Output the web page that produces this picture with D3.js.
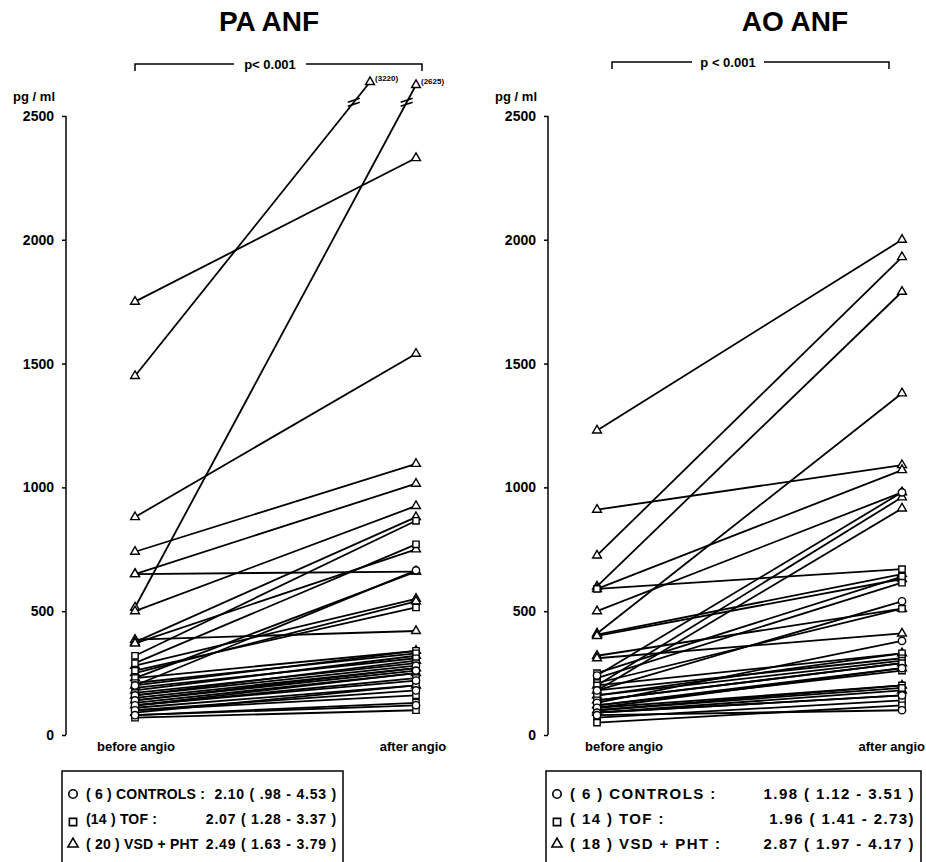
<!DOCTYPE html>
<html>
<head>
<meta charset="utf-8">
<script src="https://cdn.jsdelivr.net/npm/d3@7"></script>
<style>
  body { margin: 0; background: #fff; }
  text { font-family: "Liberation Sans", Arial, sans-serif; font-weight: bold; fill: #000; }
</style>
</head>
<body>
<svg id="chart" width="926" height="862"></svg>
<script>
// ---- data (pg/ml) ----
const phases = ["before angio", "after angio"];
const yTicks = [0, 500, 1000, 1500, 2000, 2500];

// PA ANF
const paCtrlBefore = [200, 160, 140, 120, 100, 80];
const paCtrlAfter  = [665, 280, 260, 220, 180, 120];
const paTofBefore  = [320, 290, 260, 230, 210, 190, 170, 150, 130, 120, 110, 100, 80, 70];
const paTofAfter   = [865, 770, 515, 340, 330, 310, 290, 270, 250, 230, 200, 160, 130, 100];
const paVsdBefore  = [1750, 1450, 880, 740, 650, 650, 515, 500, 385, 375, 370, 280, 250, 230, 200, 180, 160, 140, 120, 90];
const paVsdAfter   = [2330, 3220, 1540, 1095, 1015, 660, 2625, 925, 420, 880, 750, 550, 540, 660, 340, 320, 300, 270, 250, 200];

// AO ANF
const aoCtrlBefore = [240, 180, 130, 110, 90, 80];
const aoCtrlAfter  = [980, 540, 380, 270, 160, 100];
const aoTofBefore  = [590, 250, 230, 210, 200, 180, 160, 140, 120, 110, 100, 90, 70, 50];
const aoTofAfter   = [670, 640, 615, 510, 330, 310, 300, 290, 260, 200, 190, 160, 140, 120];
const aoVsdBefore  = [1230, 910, 725, 600, 590, 500, 410, 405, 400, 320, 310, 200, 180, 160, 140, 120, 100, 90];
const aoVsdAfter   = [2000, 1090, 1930, 1790, 1070, 980, 1380, 650, 630, 510, 410, 960, 915, 330, 290, 270, 200, 180];

const paLegend = [
  ["( 6 ) CONTROLS :", "2.10 (  .98 - 4.53 )"],
  ["(14 ) TOF :", "2.07 ( 1.28 - 3.37 )"],
  ["( 20 ) VSD + PHT", "2.49 ( 1.63 - 3.79 )"]
];
const aoLegend = [
  ["( 6 ) CONTROLS :", "1.98 ( 1.12 - 3.51 )"],
  ["( 14 ) TOF :", "1.96 ( 1.41 - 2.73)"],
  ["( 18 ) VSD + PHT :", "2.87 ( 1.97 - 4.17 )"]
];

const svg = d3.select("#chart");

// broken scale: above the 2500 top, the line is cut off at the break
const y = d3.scaleLinear().domain([0, 2625, 3220]).range([735, 85, 24.5]);
const capY = 82;

const symbols = {
  circle: d3.symbol().type(d3.symbolCircle).size(42)(),
  square: d3.symbol().type(d3.symbolSquare).size(40)(),
  triangle: d3.symbol().type(d3.symbolTriangle).size(34)()
};

function pairs(before, after, shape) {
  return before.map((b, i) => ({ before: b, after: after[i], shape }));
}

function drawPanel(cfg) {
  const g = svg.append("g");
  const x = d3.scalePoint().domain(phases).range(cfg.xRange);

  // title
  g.append("text").attr("x", cfg.titleX).attr("y", 31)
    .attr("text-anchor", "middle").style("font-size", "28px").text(cfg.title);

  // p-value bracket
  const bk = cfg.bracket;
  g.append("path").attr("fill", "none").attr("stroke", "#000").attr("stroke-width", 1.5)
    .attr("d", `M${bk[0]},${bk[3] + 7}V${bk[3]}H${bk[2] - 36}M${bk[2] + 36},${bk[3]}H${bk[1]}V${bk[3] + 7}`);
  g.append("text").attr("x", bk[2]).attr("y", bk[3] + 5)
    .attr("text-anchor", "middle").style("font-size", "13px").text(cfg.p);

  // y axis
  const ax = g.append("g").attr("transform", `translate(${cfg.axisX},0)`)
    .call(d3.axisLeft(y).tickValues(yTicks).tickFormat(d3.format("d"))
      .tickSize(4).tickPadding(8).tickSizeOuter(0));
  ax.select(".domain").attr("d", `M0,${y(2500)}V${y(0)}`).attr("stroke-width", 1.5);
  ax.selectAll(".tick line").attr("stroke-width", 1.5);
  ax.selectAll(".tick text").style("font-size", "14px").style("font-family", "Liberation Sans, Arial, sans-serif")
    .style("font-weight", "bold").attr("fill", "#000");
  g.append("text").attr("x", cfg.axisX - 11).attr("y", 101)
    .attr("text-anchor", "end").style("font-size", "13px").text("pg / ml");

  // phase labels
  phases.forEach((p, i) => {
    g.append("text").attr("x", cfg.phaseX[i]).attr("y", 751)
      .attr("text-anchor", cfg.phaseAnchor[i]).style("font-size", "13px").text(p);
  });

  // lines
  const rows = cfg.data.map(d => {
    const x0 = x("before angio"), y0 = y(d.before);
    let x1 = x("after angio"), y1 = y(d.after);
    if (y1 < capY) {
      const t = (y0 - capY) / (y0 - y1);
      x1 = x0 + t * (x1 - x0);
      y1 = capY;
    }
    return Object.assign({ x0, y0, x1, y1 }, d);
  });

  g.selectAll(".pair").data(rows).enter().append("line")
    .attr("x1", d => d.x0).attr("y1", d => d.y0)
    .attr("x2", d => d.x1).attr("y2", d => d.y1)
    .attr("stroke", "#000").attr("stroke-width", 1.8);

  // break marks and value labels for values above the axis top
  const broken = rows.filter(d => d.after > 2500);
  broken.forEach(d => {
    const yb = y(2555);
    const t = (d.y0 - yb) / (d.y0 - d.y1);
    const xb = d.x0 + t * (d.x1 - d.x0);
    [-2, 2].forEach(off => {
      g.append("line").attr("x1", xb - 6).attr("y1", yb + off + 2)
        .attr("x2", xb + 6).attr("y2", yb + off - 2)
        .attr("stroke", "#000").attr("stroke-width", 1.5);
    });
    g.append("text").attr("x", d.x1 + 5).attr("y", d.y1 - 1)
      .style("font-size", "8px").text(`(${d.after})`);
  });

  // markers
  const mk = rows.flatMap(d => [
    { x: d.x0, y: d.y0, shape: d.shape },
    { x: d.x1, y: d.y1, shape: d.shape }
  ]);
  g.selectAll(".mk").data(mk).enter().append("path")
    .attr("d", d => symbols[d.shape])
    .attr("transform", d => `translate(${d.x},${d.y})`)
    .attr("fill", "#fff").attr("stroke", "#000").attr("stroke-width", 1.4);

  // legend
  const lb = cfg.legendBox;
  g.append("path").attr("fill", "none").attr("stroke", "#000").attr("stroke-width", 1.5)
    .attr("d", `M${lb[0]},870V${lb[2]}H${lb[1]}V870`);
  const shapes = ["circle", "square", "triangle"];
  cfg.legend.forEach((row, i) => {
    const ly = 794 + i * 25;
    g.append("path").attr("d", symbols[shapes[i]])
      .attr("transform", `translate(${lb[0] + 11},${ly + (i === 1 ? 3 : 0)}) scale(1.15)`)
      .attr("fill", "#fff").attr("stroke", "#000").attr("stroke-width", 1.4);
    g.append("text").attr("x", lb[0] + 24).attr("y", ly + 5)
      .style("font-size", cfg.legendFont).style("letter-spacing", cfg.legendSpacing[0]).text(row[0]);
    g.append("text").attr("x", lb[1] - 6).attr("y", ly + 5)
      .attr("text-anchor", "end").style("font-size", cfg.legendFont)
      .style("letter-spacing", cfg.legendSpacing[1]).text(row[1]);
  });
}

drawPanel({
  title: "PA ANF", titleX: 269, p: "p< 0.001",
  bracket: [135, 422, 270, 64],
  axisX: 66, xRange: [135, 416], phaseX: [136, 413], phaseAnchor: ["middle", "middle"],
  legendBox: [62, 343, 771], legend: paLegend,
  legendFont: "14px", legendSpacing: ["0.2px", "0.8px"],
  data: [].concat(
    pairs(paVsdBefore, paVsdAfter, "triangle"),
    pairs(paTofBefore, paTofAfter, "square"),
    pairs(paCtrlBefore, paCtrlAfter, "circle"))
});

drawPanel({
  title: "AO ANF", titleX: 795, p: "p < 0.001",
  bracket: [612, 889, 728, 62],
  axisX: 548, xRange: [597, 902], phaseX: [624, 925], phaseAnchor: ["middle", "end"],
  legendBox: [546, 921, 771], legend: aoLegend,
  legendFont: "15px", legendSpacing: ["1.4px", "1.4px"],
  data: [].concat(
    pairs(aoVsdBefore, aoVsdAfter, "triangle"),
    pairs(aoTofBefore, aoTofAfter, "square"),
    pairs(aoCtrlBefore, aoCtrlAfter, "circle"))
});
</script>
</body>
</html>
